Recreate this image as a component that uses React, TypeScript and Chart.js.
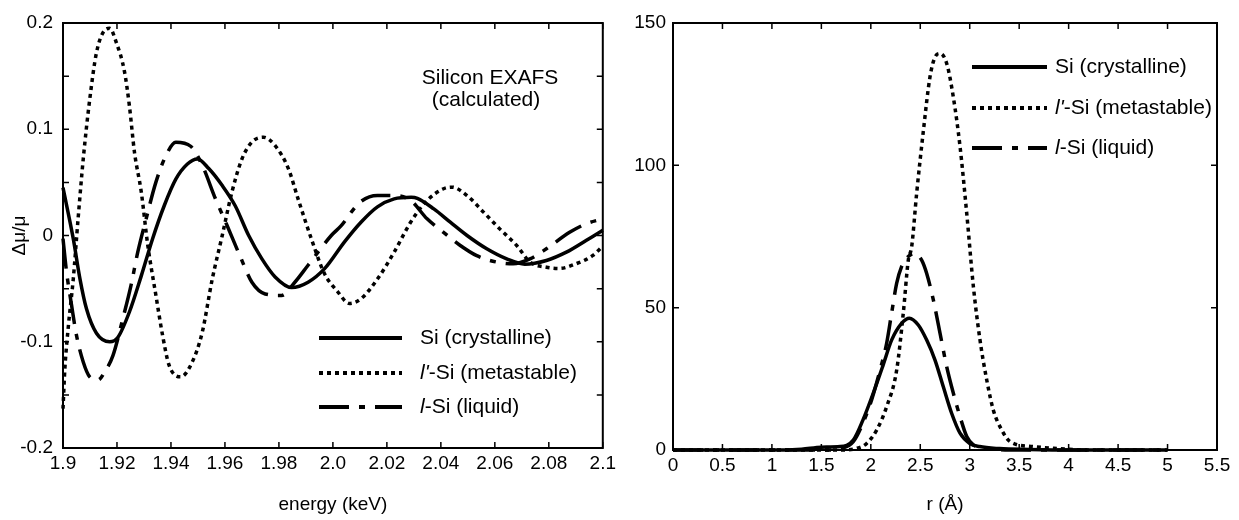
import React, { useEffect, useRef } from 'react';
import { Chart, registerables } from 'chart.js';

Chart.register(...registerables);

const FONT = "'Liberation Sans', Arial, Helvetica, sans-serif";

// ---------- Left panel: EXAFS (energy in keV, Δμ/μ) ----------
const energyCryst = [1.9, 1.9038, 1.9063, 1.9087, 1.9124, 1.9173, 1.9203, 1.9246, 1.929, 1.9332, 1.9375, 1.9418, 1.946, 1.9498, 1.954, 1.959, 1.9638, 1.9688, 1.9737, 1.9786, 1.9847, 1.9908, 1.997, 2.0043, 2.0104, 2.0165, 2.0227, 2.029, 2.0313, 2.0374, 2.0435, 2.0497, 2.057, 2.0644, 2.0711, 2.0791, 2.0865, 2.0938, 2.1];
const muCryst = [0.045, -0.003, -0.041, -0.069, -0.092, -0.1, -0.096, -0.072, -0.038, -0.003, 0.028, 0.053, 0.067, 0.072, 0.063, 0.047, 0.028, 0.0, -0.022, -0.039, -0.049, -0.044, -0.031, -0.006, 0.0125, 0.027, 0.0345, 0.036, 0.035, 0.025, 0.0125, 0.0, -0.0125, -0.022, -0.027, -0.0235, -0.0157, -0.0047, 0.005];

const energyMeta = [1.9, 1.9007, 1.902, 1.9038, 1.9056, 1.9075, 1.9099, 1.9124, 1.9154, 1.9173, 1.9197, 1.9228, 1.9246, 1.9265, 1.929, 1.9314, 1.9344, 1.9369, 1.9393, 1.9436, 1.9479, 1.9516, 1.9553, 1.959, 1.9626, 1.9663, 1.97, 1.9743, 1.9786, 1.9835, 1.9871, 1.992, 1.9969, 2.0018, 2.0061, 2.0104, 2.0165, 2.0227, 2.0288, 2.0349, 2.041, 2.0441, 2.0497, 2.0558, 2.0619, 2.0681, 2.073, 2.0791, 2.084, 2.0901, 2.0962, 2.1];
const muMeta = [-0.163, -0.125, -0.085, -0.041, 0.016, 0.072, 0.128, 0.172, 0.193, 0.195, 0.182, 0.154, 0.122, 0.078, 0.041, -0.009, -0.056, -0.094, -0.122, -0.133, -0.119, -0.091, -0.041, 0.0, 0.041, 0.072, 0.088, 0.0925, 0.0846, 0.063, 0.0345, -0.003, -0.036, -0.053, -0.064, -0.0596, -0.041, -0.0157, 0.0125, 0.033, 0.044, 0.0455, 0.0376, 0.022, 0.006, -0.0094, -0.025, -0.0298, -0.031, -0.0266, -0.019, -0.01];

const energyLiq = [1.9, 1.9013, 1.9032, 1.905, 1.9075, 1.9099, 1.913, 1.9154, 1.9185, 1.9222, 1.9252, 1.9277, 1.9308, 1.9344, 1.9381, 1.9418, 1.9473, 1.9516, 1.9565, 1.9608, 1.9657, 1.97, 1.9749, 1.981, 1.9859, 1.9908, 1.9994, 2.003, 2.0099, 2.0165, 2.0227, 2.0288, 2.0349, 2.041, 2.0472, 2.0533, 2.0607, 2.0668, 2.073, 2.0791, 2.0877, 2.0938, 2.1];
const muLiq = [-0.003, -0.034, -0.066, -0.094, -0.119, -0.133, -0.136, -0.1285, -0.113, -0.078, -0.047, -0.0157, 0.0157, 0.05, 0.075, 0.0878, 0.084, 0.066, 0.0345, 0.0094, -0.02, -0.044, -0.055, -0.0564, -0.044, -0.028, 0.0, 0.009, 0.031, 0.0376, 0.0376, 0.033, 0.0157, 0.003, -0.0094, -0.019, -0.025, -0.0266, -0.022, -0.0125, 0.003, 0.011, 0.0157];

const leftXTickValues = [1.9, 1.92, 1.94, 1.96, 1.98, 2.0, 2.02, 2.04, 2.06, 2.08, 2.1];
const leftXTickLabels = ['1.9', '1.92', '1.94', '1.96', '1.98', '2.0', '2.02', '2.04', '2.06', '2.08', '2.1'];
const leftYTickValues = [-0.2, -0.15, -0.1, -0.05, 0, 0.05, 0.1, 0.15, 0.2];
const leftYTickLabels = ['-0.2', '', '-0.1', '', '0', '', '0.1', '', '0.2'];

// ---------- Right panel: radial distribution (r in Å) ----------
const rCryst = [0, 1.0, 1.3, 1.5, 1.69, 1.823, 1.92, 2.025, 2.126, 2.21, 2.311, 2.39, 2.48, 2.565, 2.649, 2.733, 2.817, 2.902, 3.0, 3.1, 3.3, 3.6, 4.0, 5.0];
const gCryst = [0, 0, 0.3, 1.0, 1.2, 3.5, 10.5, 20, 30, 38.6, 44.5, 46.3, 43.9, 38.6, 31.6, 22.2, 12.9, 5.9, 2.3, 1.2, 0.5, 0.2, 0, 0];

const rMeta = [0, 1.7, 1.857, 1.958, 2.059, 2.16, 2.261, 2.328, 2.379, 2.413, 2.463, 2.531, 2.598, 2.649, 2.7, 2.767, 2.834, 2.902, 2.97, 3.037, 3.104, 3.172, 3.239, 3.324, 3.41, 3.64, 3.85, 4.2, 5.0];
const gMeta = [0, 0, 0.6, 2.3, 7, 15.2, 28, 48, 66.7, 71.4, 90, 112, 131, 138, 139.3, 135.8, 124, 106.6, 83, 57.4, 38.6, 24.6, 14, 7, 2.9, 1.2, 0.6, 0, 0];

const rLiq = [0, 1.6, 1.7, 1.823, 1.92, 2.008, 2.093, 2.16, 2.21, 2.261, 2.311, 2.379, 2.446, 2.514, 2.565, 2.632, 2.7, 2.767, 2.834, 2.902, 2.97, 3.037, 3.17, 3.4, 5.0];
const gLiq = [0, 0, 0.5, 2.9, 9.4, 17.6, 28, 37.5, 48, 58.5, 64.4, 68, 69, 66.7, 62, 52.7, 41, 29.3, 20, 11.7, 4.7, 1.8, 0.6, 0, 0];

const rightXTickValues = [0, 0.5, 1, 1.5, 2, 2.5, 3, 3.5, 4, 4.5, 5, 5.5];
const rightXTickLabels = ['0', '0.5', '1', '1.5', '2', '2.5', '3', '3.5', '4', '4.5', '5', '5.5'];
const rightYTickValues = [0, 50, 100, 150];
const rightYTickLabels = ['0', '50', '100', '150'];

const seriesNames = ['Si (crystalline)', "l'-Si (metastable)", 'l-Si (liquid)'];
const legendParts = [
  [{ t: 'Si (crystalline)', it: false }],
  [{ t: "l'", it: true }, { t: '-Si (metastable)', it: false }],
  [{ t: 'l', it: true }, { t: '-Si (liquid)', it: false }],
];

const DASHES = [[], [4, 4], [30, 10, 6, 10]];
const LINE_W = 3.5;

const pts = (xs: number[], ys: number[]) => xs.map((x, i) => ({ x, y: ys[i] }));

const makeDatasets = (sets: { x: number[]; y: number[] }[], clip: any) =>
  sets.map((s, i) => ({
    label: seriesNames[i],
    data: pts(s.x, s.y),
    borderColor: '#000',
    backgroundColor: '#000',
    borderWidth: LINE_W,
    borderDash: DASHES[i],
    borderCapStyle: 'butt' as const,
    pointRadius: 0,
    fill: false,
    clip,
    cubicInterpolationMode: 'monotone' as const,
  }));

const frameTicks = {
  id: 'frameTicks',
  afterDatasetsDraw(chart: any) {
    const { ctx, chartArea: a, scales } = chart;
    const L = 6;
    ctx.save();
    ctx.strokeStyle = '#000';
    ctx.lineWidth = 1.5;
    ctx.setLineDash([]);
    ctx.beginPath();
    for (const t of scales.x.ticks) {
      const p = scales.x.getPixelForValue(t.value);
      ctx.moveTo(p, a.bottom);
      ctx.lineTo(p, a.bottom - L);
      ctx.moveTo(p, a.top);
      ctx.lineTo(p, a.top + L);
    }
    for (const t of scales.y.ticks) {
      const p = scales.y.getPixelForValue(t.value);
      ctx.moveTo(a.left, p);
      ctx.lineTo(a.left + L, p);
      ctx.moveTo(a.right, p);
      ctx.lineTo(a.right - L, p);
    }
    ctx.stroke();
    ctx.lineWidth = 2;
    ctx.strokeRect(a.left, a.top, a.right - a.left, a.bottom - a.top);
    ctx.restore();
  },
};

type LegendCfg = { x0: number; x1: number; tx: number; rows: number[]; size: number; notes?: { text: string; x: number; y: number }[] };

const makeLegendPlugin = (cfg: LegendCfg) => ({
  id: 'customLegend',
  afterDraw(chart: any) {
    const { ctx } = chart;
    ctx.save();
    ctx.fillStyle = '#000';
    ctx.strokeStyle = '#000';
    ctx.textBaseline = 'middle';
    cfg.rows.forEach((y, i) => {
      ctx.lineWidth = LINE_W + 0.5;
      ctx.lineCap = 'butt';
      ctx.setLineDash(DASHES[i]);
      ctx.beginPath();
      ctx.moveTo(cfg.x0, y);
      ctx.lineTo(cfg.x1, y);
      ctx.stroke();
      ctx.setLineDash([]);
      let x = cfg.tx;
      ctx.textAlign = 'left';
      for (const p of legendParts[i]) {
        ctx.font = `${p.it ? 'italic ' : ''}${cfg.size}px ${FONT}`;
        ctx.fillText(p.t, x, y);
        x += ctx.measureText(p.t).width;
      }
    });
    if (cfg.notes) {
      ctx.font = `${cfg.size}px ${FONT}`;
      ctx.textAlign = 'center';
      for (const n of cfg.notes) ctx.fillText(n.text, n.x, n.y);
    }
    ctx.restore();
  },
});

const tickFont = { family: FONT, size: 19 };
const titleFont = { family: FONT, size: 19 };

function Panel(props: {
  left: number; width: number; padTop: number; padRight: number; yWidth: number; xHeight: number;
  xMin: number; xMax: number; yMin: number; yMax: number;
  xTicks: number[]; xLabels: string[]; yTicks: number[]; yLabels: string[];
  xTitle: string; yTitle?: string; yPad: number; clip: any;
  sets: { x: number[]; y: number[] }[]; legend: LegendCfg;
}) {
  const ref = useRef<HTMLCanvasElement>(null);
  useEffect(() => {
    if (!ref.current) return;
    const chart = new Chart(ref.current, {
      type: 'line',
      data: { datasets: makeDatasets(props.sets, props.clip) as any },
      options: {
        animation: false,
        responsive: false,
        maintainAspectRatio: false,
        events: [],
        layout: { padding: { top: props.padTop, right: props.padRight, left: 0, bottom: 0 } },
        plugins: { legend: { display: false }, tooltip: { enabled: false } },
        scales: {
          x: {
            type: 'linear',
            min: props.xMin,
            max: props.xMax,
            afterBuildTicks: (s: any) => { s.ticks = props.xTicks.map((v) => ({ value: v })); },
            afterFit: (s: any) => { s.height = props.xHeight; },
            grid: { display: false, drawTicks: false },
            border: { display: false },
            ticks: {
              font: tickFont, color: '#000', padding: 4, maxRotation: 0, autoSkip: false,
              callback: (_v: any, i: number) => props.xLabels[i],
            },
            title: { display: true, text: props.xTitle, font: titleFont, color: '#000', padding: { top: 0, bottom: 4 } },
          },
          y: {
            type: 'linear',
            min: props.yMin,
            max: props.yMax,
            afterBuildTicks: (s: any) => { s.ticks = props.yTicks.map((v) => ({ value: v })); },
            afterFit: (s: any) => { s.width = props.yWidth; },
            grid: { display: false, drawTicks: false },
            border: { display: false },
            ticks: {
              font: tickFont, color: '#000', padding: props.yPad, autoSkip: false,
              callback: (_v: any, i: number) => props.yLabels[i],
            },
            title: { display: !!props.yTitle, text: props.yTitle || '', font: titleFont, color: '#000', padding: { top: 8, bottom: 0 } },
          },
        },
      } as any,
      plugins: [frameTicks, makeLegendPlugin(props.legend)],
    });
    return () => chart.destroy();
  }, []);
  return (
    <canvas
      ref={ref}
      width={props.width}
      height={520}
      style={{ position: 'absolute', left: props.left, top: 0, width: props.width, height: 520 }}
    />
  );
}

export default function App() {
  return (
    <div style={{ position: 'absolute', left: 0, top: 0, width: 1239, height: 520, background: '#fff' }}>
      <Panel
        left={0} width={620} padTop={23} padRight={13} yWidth={63} xHeight={72}
        xMin={1.9} xMax={2.1} yMin={-0.2} yMax={0.2}
        xTicks={leftXTickValues} xLabels={leftXTickLabels}
        yTicks={leftYTickValues} yLabels={leftYTickLabels}
        xTitle="energy (keV)" yTitle="Δμ/μ" yPad={10} clip={2}
        sets={[{ x: energyCryst, y: muCryst }, { x: energyMeta, y: muMeta }, { x: energyLiq, y: muLiq }]}
        legend={{
          x0: 319, x1: 402, tx: 420, rows: [338, 373, 407], size: 21,
          notes: [{ text: 'Silicon EXAFS', x: 490, y: 78 }, { text: '(calculated)', x: 486, y: 100 }],
        }}
      />
      <Panel
        left={620} width={619} padTop={23} padRight={22} yWidth={53} xHeight={70}
        xMin={0} xMax={5.5} yMin={0} yMax={150}
        xTicks={rightXTickValues} xLabels={rightXTickLabels}
        yTicks={rightYTickValues} yLabels={rightYTickLabels}
        xTitle="r (Å)" yPad={7} clip={false}
        sets={[{ x: rCryst, y: gCryst }, { x: rMeta, y: gMeta }, { x: rLiq, y: gLiq }]}
        legend={{ x0: 352, x1: 427, tx: 435, rows: [67, 108, 148], size: 21 }}
      />
    </div>
  );
}
